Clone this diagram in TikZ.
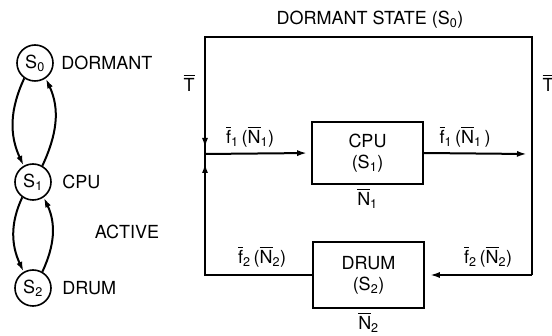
\documentclass[tikz,border=0pt]{standalone}
\usepackage{fontspec}
\setmainfont{TeX Gyre Heros}
\usetikzlibrary{arrows.meta,positioning}

\newcommand{\ol}[1]{{\setbox0\hbox{#1}\rlap{\raisebox{\dimexpr\ht0+2pt\relax}{\rule{\wd0}{1.1pt}}}\box0}}

\tikzset{
  wire/.style={line width=2pt},
  flow/.style={wire,-{Latex[length=10pt,width=6pt]}},
  unit/.style={draw,line width=1.6pt,minimum width=111pt,align=center},
  state/.style={draw,circle,line width=1.6pt,minimum size=36pt,inner sep=0pt}
}

\begin{document}
\begin{tikzpicture}[x=1pt,y=-1pt,font=\fontsize{18}{21}\selectfont]
  \useasboundingbox (0,0) rectangle (552,336);

  % State chain
  \node[state] (S0) at (35,63) {S\textsubscript{0}};
  \node[state] (S1) at (33,182) {S\textsubscript{1}};
  \node[state] (S2) at (33,288) {S\textsubscript{2}};
  \node[right=4pt of S0] (dormant) {DORMANT};
  \node[right=7pt of S1] (cpulbl) {CPU};
  \node[right=7pt of S2] (drumlbl) {DRUM};
  \node (active) at (127,232) {ACTIVE};

  \draw[flow] (S0.235) to[out=245,in=115] (S1.120);
  \draw[flow] (S1.60) to[out=65,in=-65] (S0.-55);
  \draw[flow] (S1.235) to[out=245,in=115] (S2.120);
  \draw[flow] (S2.60) to[out=65,in=-65] (S1.-55);

  % Block diagram
  \node[unit,minimum height=62pt] (cpu) at (367.5,153) {CPU\\(S\textsubscript{1})};
  \node[unit,minimum height=66pt] (drum) at (368.5,275) {DRUM\\(S\textsubscript{2})};

  \coordinate (TL) at (205,37);
  \coordinate (TR) at (532,37);
  \coordinate (BL) at (205,275);
  \coordinate (BR) at (532,275);
  \coordinate (J) at (205,154);
  \coordinate (out) at (527,154);

  \draw[wire] (BR) -- (TR) -- (TL) -- (J) -- (BL) -- (drum.west);
  \draw[flow,shorten >=6pt] (TL) -- (J);
  \draw[flow,shorten >=9pt] (BL) -- (J);
  \draw[flow,shorten >=4pt] (J) -- (cpu.west);
  \draw[flow] (cpu.east) -- (out);
  \draw[flow,shorten >=5pt] (BR) -- (drum.east);

  \node (title) at (370,20) {DORMANT STATE (S\textsubscript{0})};
  \node (tl) at (189,83) {\ol{T}};
  \node (tr) at (548,83) {\ol{T}};
  \node (f1in) at (250,137) {\ol{f}\textsubscript{1}\,(\ol{N}\textsubscript{1})};
  \node (f1out) at (465,137) {\ol{f}\textsubscript{1}\,(\ol{N}\textsubscript{1}\,)};
  \node[below=1pt of cpu] (n1) {\ol{N}\textsubscript{1}};
  \node (f2out) at (262,257) {\ol{f}\textsubscript{2}\,(\ol{N}\textsubscript{2})};
  \node (f2in) at (488,257) {\ol{f}\textsubscript{2}\,(\ol{N}\textsubscript{2})};
  \node[below=1pt of drum] (n2) {\ol{N}\textsubscript{2}};

\end{tikzpicture}
\end{document}
